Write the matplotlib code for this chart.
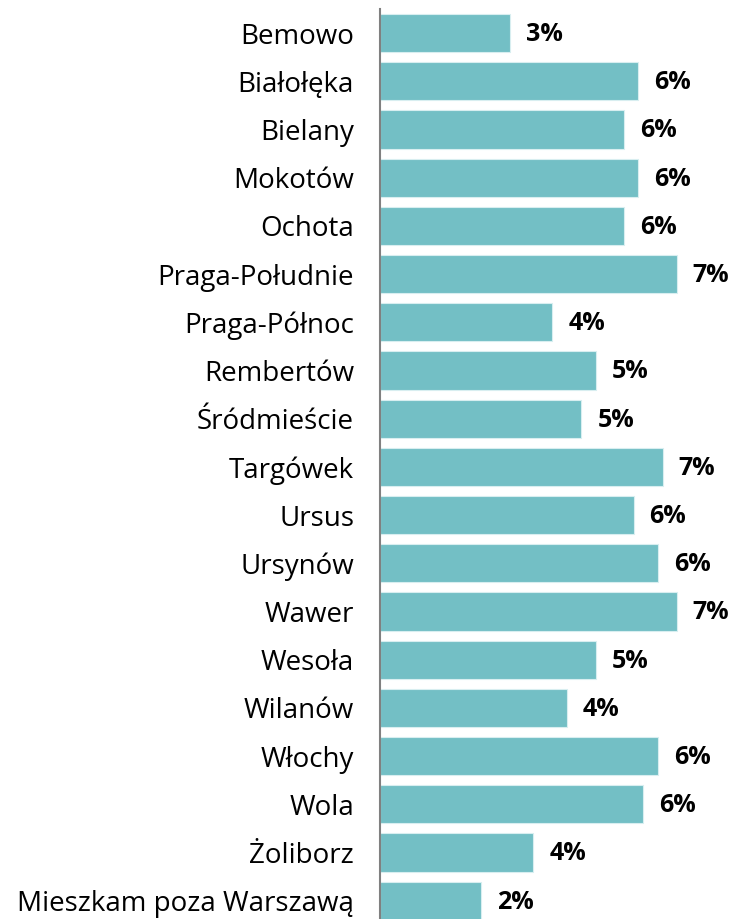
import matplotlib
matplotlib.use('Agg')
import matplotlib.pyplot as plt

# Districts (top to bottom) and share of answers in percent
districts = ['Bemowo', 'Białołęka', 'Bielany', 'Mokotów', 'Ochota', 'Praga-Południe',
             'Praga-Północ', 'Rembertów', 'Śródmieście', 'Targówek', 'Ursus', 'Ursynów',
             'Wawer', 'Wesoła', 'Wilanów', 'Włochy', 'Wola', 'Żoliborz',
             'Mieszkam poza Warszawą']
shares = [2.99, 5.97, 5.64, 5.97, 5.64, 6.86,
          3.98, 4.98, 4.65, 6.53, 5.86, 6.42,
          6.86, 4.98, 4.31, 6.42, 6.08, 3.54,
          2.32]

bar_color = '#73BFC5'
plt.rcParams['font.family'] = ['Open Sans', 'DejaVu Sans']

fig = plt.figure(figsize=(7.32, 9.19), dpi=100)
ax = fig.add_axes([0.5198, -0.0063, 0.4721, 0.9965])

pos = list(range(len(districts)))
ax.barh(pos, shares, height=0.79, color=bar_color, edgecolor='#d8eef0', linewidth=0.8)

# rounded value labels right of each bar
for p, v in zip(pos, shares):
    ax.annotate(f'{round(v)}%', xy=(v, p), xytext=(11.5, -1), textcoords='offset points',
                ha='left', va='center', fontsize=18, fontweight='bold', color='black',
                annotation_clip=False)

ax.set_xlim(0, 8)
ax.set_ylim(len(districts) - 0.5, -0.5)
ax.set_yticks(pos)
ax.set_yticklabels(districts, fontsize=20)
ax.tick_params(axis='y', length=0, pad=19)
ax.set_xticks([])
for s in ['top', 'right', 'bottom']:
    ax.spines[s].set_visible(False)
ax.spines['left'].set_color('#808080')
ax.spines['left'].set_linewidth(1.5)

fig.savefig('out.png', dpi=100)
